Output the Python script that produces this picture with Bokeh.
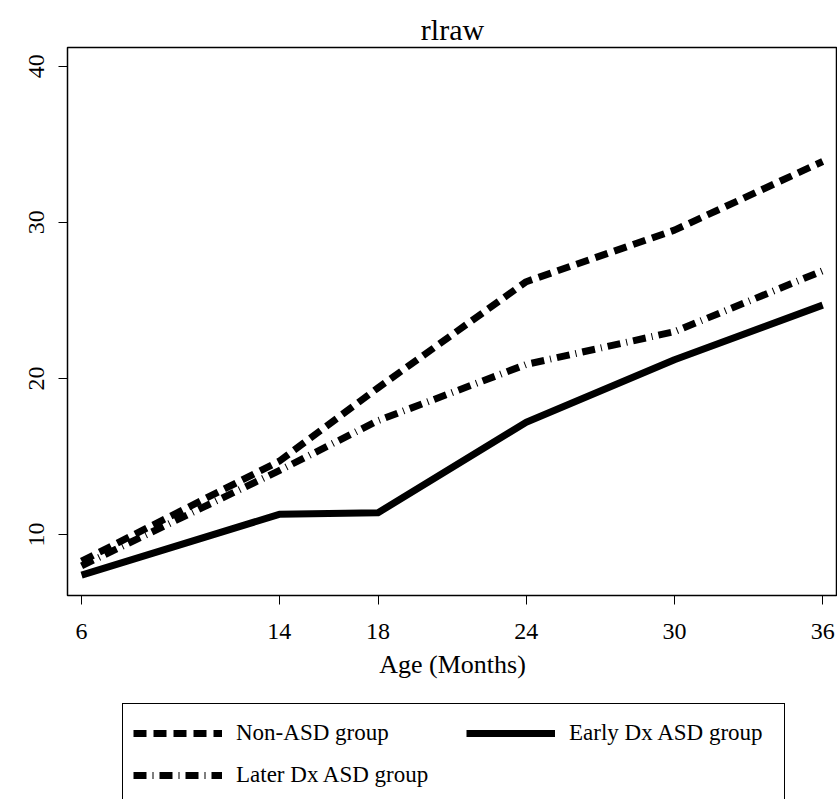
from bokeh.plotting import figure
from bokeh.layouts import column
from bokeh.models import FixedTicker, Legend, LegendItem, Range1d
from bokeh.embed import file_html
from bokeh.resources import INLINE

# ---- data ----
ages = [6, 14, 18, 24, 30, 36]
non_asd = [8.3, 14.7, 19.4, 26.2, 29.5, 33.9]
early_dx = [7.4, 11.3, 11.4, 17.2, 21.2, 24.7]
later_dx = [8.0, 14.1, 17.3, 20.9, 23.0, 26.9]
x_ticks = [6, 14, 18, 24, 30, 36]
y_ticks = [10, 20, 30, 40]
series_names = ["Non-ASD group", "Early Dx ASD group", "Later Dx ASD group"]
chart_title = "rlraw"
x_label = "Age (Months)"

FONT = "Liberation Serif"
DASHES = {"non": "13 7", "early": "solid", "later": "13 6 1 6"}

# ---------------- main plot ----------------
p = figure(width=837, height=690, output_backend="svg", toolbar_location=None,
           x_range=Range1d(5.43, 36.6), y_range=Range1d(6.1, 41.2),
           title=chart_title,
           min_border_left=67, min_border_right=0, min_border_top=47,
           min_border_bottom=95)

p.background_fill_color = "white"
p.border_fill_color = "white"
p.outline_line_color = "black"
p.outline_line_alpha = 1
p.outline_line_width = 1.5
p.xgrid.visible = False
p.ygrid.visible = False

p.title.text_font = FONT
p.title.text_font_size = "30px"
p.title.text_font_style = "normal"
p.title.text_color = "black"
p.title.align = "center"
p.title.standoff = 4

for ax in (p.xaxis[0], p.yaxis[0]):
    ax.major_tick_out = 9
    ax.major_tick_in = 0
    ax.minor_tick_out = 0
    ax.minor_tick_in = 0
    ax.axis_line_color = None
    ax.major_tick_line_color = "black"
    ax.major_tick_line_width = 1
    ax.major_label_text_font = FONT
    ax.major_label_text_font_size = "24px"
    ax.major_label_text_color = "black"

p.xaxis.ticker = FixedTicker(ticks=x_ticks)
p.xaxis.major_label_standoff = 19
p.xaxis.axis_label = x_label
p.xaxis.axis_label_text_font = FONT
p.xaxis.axis_label_text_font_size = "26px"
p.xaxis.axis_label_text_font_style = "normal"
p.xaxis.axis_label_text_color = "black"
p.xaxis.axis_label_standoff = 8

p.yaxis.ticker = FixedTicker(ticks=y_ticks)
p.yaxis.major_label_orientation = "vertical"
p.yaxis.major_label_standoff = 14

p.line(ages, non_asd, line_color="black", line_width=7,
       line_dash=DASHES["non"], line_join="round")
p.line(ages, early_dx, line_color="black", line_width=7,
       line_dash=DASHES["early"], line_join="round")
p.line(ages, later_dx, line_color="black", line_width=7,
       line_dash=DASHES["later"], line_join="round")

# ---------------- legend strip ----------------
lg = figure(width=837, height=109, output_backend="svg", toolbar_location=None,
            x_range=Range1d(0, 1), y_range=Range1d(0, 1),
            min_border_left=0, min_border_right=0, min_border_top=0,
            min_border_bottom=0)
lg.axis.visible = False
lg.xgrid.visible = False
lg.ygrid.visible = False
lg.outline_line_color = None
lg.background_fill_color = "white"
lg.border_fill_color = "white"

# legend-only renderers (hidden; they only supply the legend glyph styles)
l_non = lg.line(ages, non_asd, line_color="black", line_width=7,
                line_dash=DASHES["non"], visible=False)
l_early = lg.line(ages, early_dx, line_color="black", line_width=7,
                  line_dash=DASHES["early"], visible=False)
l_later = lg.line(ages, later_dx, line_color="black", line_width=7,
                  line_dash=DASHES["later"], visible=False)

common = dict(label_text_font=FONT, label_text_font_size="23px",
              label_text_color="black",
              glyph_width=89, glyph_height=38, label_standoff=14,
              padding=10, spacing=4, margin=0)

# location is relative to the frame, which the column aligns with the main plot's frame (x=67)
legend_a = Legend(items=[LegendItem(label=series_names[0], renderers=[l_non]),
                         LegendItem(label=series_names[2], renderers=[l_later])],
                  orientation="vertical", location=(55, -6),
                  border_line_color="black", border_line_alpha=1,
                  border_line_width=1.5, background_fill_alpha=1,
                  label_width=538, **common)
legend_b = Legend(items=[LegendItem(label=series_names[1], renderers=[l_early])],
                  orientation="vertical", location=(399, 47),
                  border_line_color=None, background_fill_alpha=0,
                  **common)
lg.add_layout(legend_a)
lg.add_layout(legend_b)

layout = column(p, lg, spacing=0)
open("out.html", "w").write(file_html(layout, INLINE))
